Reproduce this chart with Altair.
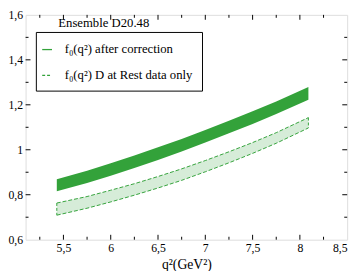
import altair as alt
import pandas as pd

# ---- data ----
q2 = [5.43, 5.75, 6.0, 6.25, 6.5, 6.75, 7.0, 7.25, 7.5, 7.75, 8.09]
green_hi = [0.869, 0.907, 0.940, 0.975, 1.011, 1.048, 1.088, 1.129, 1.171, 1.215, 1.279]
green_lo = [0.816, 0.852, 0.884, 0.919, 0.955, 0.992, 1.032, 1.073, 1.115, 1.159, 1.223]
hatch_hi = [0.763, 0.792, 0.820, 0.849, 0.881, 0.915, 0.952, 0.991, 1.032, 1.076, 1.143]
hatch_lo = [0.709, 0.740, 0.768, 0.798, 0.830, 0.864, 0.902, 0.942, 0.984, 1.029, 1.097]

x_labels = [5.5, 6.0, 6.5, 7.0, 7.5, 8.0, 8.5]
y_labels = [0.6, 0.8, 1.0, 1.2, 1.4, 1.6]
x_major = [5.5, 6.0, 6.5, 7.0, 7.5, 8.0]
x_minor = [5.25, 5.75, 6.25, 6.75, 7.25, 7.75, 8.25]
y_major = [0.8, 1.0, 1.2, 1.4]
y_minor = [0.7, 0.9, 1.1, 1.3, 1.5]

legend_title = "Ensemble D20.48"
legend_labels = ["f\u2080(q\u00b2) after correction", "f\u2080(q\u00b2) D at Rest data only"]
x_title = "q\u00b2(GeV\u00b2)"

# ---- styling ----
W, H = 329, 230
GREEN = "#33a23a"
FONT = "'Liberation Serif', 'Times New Roman', 'DejaVu Serif', serif"
MAJ, MIN = 5, 3

df = pd.DataFrame({"q2": q2, "ghi": green_hi, "glo": green_lo,
                   "hhi": hatch_hi, "hlo": hatch_lo})
ends = df.iloc[[0, len(df) - 1]]
one = pd.DataFrame({"a": [0]})

xs = alt.Scale(domain=[5.1, 8.5], nice=False, zero=False)
ys = alt.Scale(domain=[0.6, 1.6], nice=False, zero=False)
lab = "replace(toString(datum.value), '.', ',')"

xaxis = alt.Axis(values=x_labels, labelExpr=lab, ticks=False, domain=False, grid=False,
                 labelFont=FONT, labelFontSize=12, labelColor="black", labelPadding=3,
                 title=x_title, titleFont=FONT, titleFontSize=14, titleFontWeight="normal",
                 titleColor="black", titlePadding=4)
yaxis = alt.Axis(values=y_labels, labelExpr=lab, ticks=False, domain=False, grid=False,
                 labelFont=FONT, labelFontSize=12, labelColor="black", labelPadding=3,
                 title="")


def XF(field):
    return alt.X(field, type="quantitative", scale=xs, axis=xaxis, title=x_title)


def YF(field):
    return alt.Y(field, type="quantitative", scale=ys, axis=yaxis, title="")


base = alt.Chart(df)

green_band = base.mark_area(color=GREEN, opacity=1).encode(
    x=XF("q2"), y=YF("ghi"), y2="glo:Q")

hatch_band = base.mark_area(color=GREEN, opacity=0.2).encode(
    x=XF("q2"), y=YF("hhi"), y2="hlo:Q")
hatch_top = base.mark_line(stroke=GREEN, strokeDash=[4, 2], strokeWidth=1).encode(
    x=XF("q2"), y=YF("hhi"))
hatch_bot = base.mark_line(stroke=GREEN, strokeDash=[4, 2], strokeWidth=1).encode(
    x=XF("q2"), y=YF("hlo"))
hatch_ends = alt.Chart(ends).mark_rule(stroke=GREEN, strokeDash=[3, 2], strokeWidth=1).encode(
    x=XF("q2"), y=YF("hhi"), y2="hlo:Q")


def xticks(vals, length):
    d = alt.Chart(pd.DataFrame({"v": vals}))
    bot = d.mark_rule(stroke="black", strokeWidth=1).encode(
        x=XF("v"), y=alt.value(H), y2=alt.value(H - length))
    top = d.mark_rule(stroke="black", strokeWidth=1).encode(
        x=XF("v"), y=alt.value(0), y2=alt.value(length))
    return [bot, top]


def yticks(vals, length):
    d = alt.Chart(pd.DataFrame({"v": vals}))
    left = d.mark_rule(stroke="black", strokeWidth=1).encode(
        y=YF("v"), x=alt.value(0), x2=alt.value(length))
    right = d.mark_rule(stroke="black", strokeWidth=1).encode(
        y=YF("v"), x=alt.value(W), x2=alt.value(W - length))
    return [left, right]


ticks = xticks(x_major, MAJ) + xticks(x_minor, MIN) + yticks(y_major, MAJ) + yticks(y_minor, MIN)

oc = alt.Chart(one)
leg_box = oc.mark_rect(fill="white", stroke="black", strokeWidth=1).encode(
    x=alt.value(11), x2=alt.value(181), y=alt.value(18), y2=alt.value(78))
leg_title = oc.mark_text(font=FONT, fontSize=13, color="black", align="center",
                         baseline="middle").encode(
    x=alt.value(80), y=alt.value(8), text=alt.value(legend_title))
leg_l1 = oc.mark_rule(stroke=GREEN, strokeWidth=1.3).encode(
    x=alt.value(17), x2=alt.value(27), y=alt.value(35.5))
leg_l2 = oc.mark_rule(stroke=GREEN, strokeWidth=1.3, strokeDash=[3, 2]).encode(
    x=alt.value(17), x2=alt.value(27), y=alt.value(62))
leg_t1 = oc.mark_text(font=FONT, fontSize=13, color="black", align="left",
                      baseline="middle").encode(
    x=alt.value(40), y=alt.value(35), text=alt.value(legend_labels[0]))
leg_t2 = oc.mark_text(font=FONT, fontSize=13, color="black", align="left",
                      baseline="middle").encode(
    x=alt.value(40), y=alt.value(61.5), text=alt.value(legend_labels[1]))

chart = alt.layer(
    green_band, hatch_band, hatch_top, hatch_bot, hatch_ends, *ticks,
    leg_box, leg_title, leg_l1, leg_l2, leg_t1, leg_t2
).properties(
    width=W, height=H, autosize="none",
    padding={"left": 18, "top": 4, "right": 8, "bottom": 29}
).configure_view(stroke="black", strokeWidth=1).configure(background="white")

chart.save("out.html", embed_options={"renderer": "svg", "actions": False})
